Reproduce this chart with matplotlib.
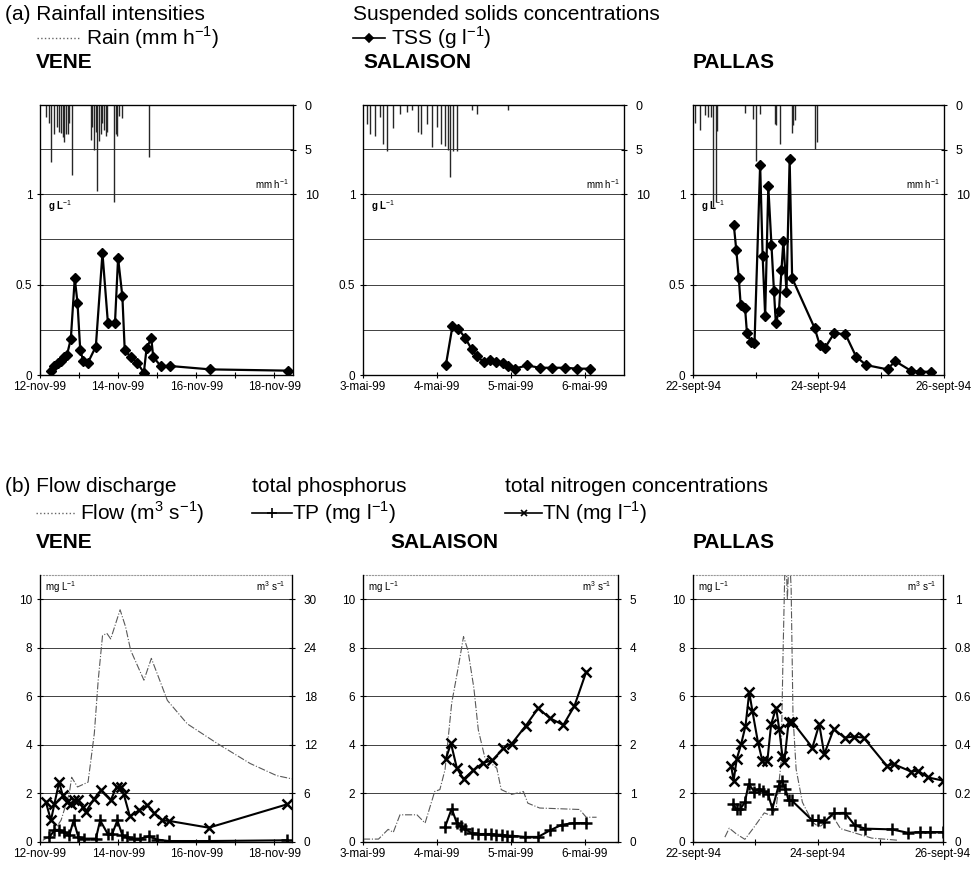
import matplotlib
matplotlib.use('Agg')
import matplotlib.pyplot as plt
from matplotlib.lines import Line2D
from matplotlib.transforms import blended_transform_factory

plt.rcParams['font.family'] = 'Liberation Sans'
plt.rcParams['mathtext.fontset'] = 'custom'
plt.rcParams['mathtext.rm'] = 'Liberation Sans'

# ---- (a) rainfall (mm/h) and TSS (g/l), time in days from first date ----
vene_rain_t = [0.15, 0.24, 0.28, 0.37, 0.43, 0.49, 0.54, 0.58, 0.62, 0.66, 0.71, 0.75, 0.81,
               1.30, 1.34, 1.38, 1.43, 1.47, 1.51, 1.56, 1.60, 1.64, 1.68, 1.72,
               1.90, 1.94, 1.98, 2.02, 2.11, 2.79]
vene_rain = [1.3, 2.0, 6.4, 3.3, 2.5, 3.0, 3.1, 3.6, 4.1, 3.2, 3.3, 2.0, 7.9,
             3.9, 2.5, 5.1, 3.0, 9.6, 4.0, 3.3, 2.0, 2.8, 3.5, 3.0,
             10.9, 3.3, 3.5, 1.2, 1.5, 5.8]
vene_tss_t = [0.28, 0.36, 0.47, 0.54, 0.62, 0.69, 0.79, 0.89, 0.96, 1.03, 1.11, 1.22, 1.43, 1.60,
              1.74, 1.92, 2.00, 2.11, 2.17, 2.32, 2.49, 2.66, 2.73, 2.85, 2.90, 3.09, 3.32, 4.36, 6.36]
vene_tss = [0.02, 0.05, 0.065, 0.08, 0.10, 0.11, 0.20, 0.535, 0.40, 0.14, 0.075, 0.065, 0.157, 0.673,
            0.286, 0.286, 0.646, 0.434, 0.138, 0.10, 0.068, 0.013, 0.148, 0.203, 0.10, 0.05, 0.05, 0.031, 0.024]

sal_rain_t = [0.05, 0.09, 0.16, 0.23, 0.27, 0.32, 0.41, 0.50, 0.59, 0.66, 0.75, 0.79, 0.86, 0.93,
              1.00, 1.06, 1.11, 1.15, 1.18, 1.22, 1.27, 1.47, 1.54, 1.96]
sal_rain = [2.1, 3.3, 3.5, 1.3, 4.4, 5.2, 2.6, 1.0, 0.8, 0.6, 3.0, 3.3, 2.1, 4.7,
            2.5, 4.4, 4.6, 5.0, 8.1, 5.2, 5.2, 0.6, 1.0, 0.6]
sal_tss_t = [1.12, 1.21, 1.29, 1.38, 1.47, 1.54, 1.63, 1.72, 1.80, 1.89, 1.96, 2.05, 2.22, 2.39,
             2.56, 2.73, 2.90, 3.07]
sal_tss = [0.053, 0.27, 0.255, 0.206, 0.142, 0.105, 0.072, 0.083, 0.072, 0.068, 0.05, 0.035, 0.053, 0.04,
           0.04, 0.04, 0.035, 0.035]

pal_rain_t = [0.03, 0.11, 0.19, 0.24, 0.28, 0.32, 0.37, 0.39, 0.83, 0.96, 1.01, 1.06, 1.30, 1.32,
              1.38, 1.57, 1.60, 1.63, 1.95, 1.97]
pal_rain = [2.0, 2.8, 1.1, 1.4, 1.3, 11.4, 10.9, 2.9, 0.9, 1.6, 6.3, 1.0, 2.1, 2.3,
            4.4, 3.1, 2.3, 1.7, 4.9, 4.2]
pal_tss_t = [0.65, 0.69, 0.73, 0.76, 0.83, 0.86, 0.92, 0.98, 1.07, 1.11, 1.15, 1.20, 1.25, 1.29, 1.32,
             1.37, 1.41, 1.44, 1.49, 1.54, 1.58, 1.94, 2.02, 2.10, 2.25, 2.43, 2.60, 2.76, 3.10, 3.22,
             3.47, 3.62, 3.79]
pal_tss = [0.83, 0.69, 0.535, 0.387, 0.369, 0.231, 0.185, 0.175, 1.162, 0.655, 0.327, 1.042, 0.72, 0.465,
           0.286, 0.354, 0.581, 0.738, 0.461, 1.194, 0.535, 0.258, 0.166, 0.148, 0.231, 0.225, 0.101,
           0.055, 0.031, 0.077, 0.024, 0.018, 0.018]

# ---- (b) flow (m3/s), TP and TN (mg/l) ----
vene_flow_t = [0.07, 0.28, 0.54, 0.75, 0.81, 0.96, 1.23, 1.39, 1.49, 1.60, 1.71, 1.81, 2.05, 2.19,
               2.32, 2.66, 2.85, 3.00, 3.26, 3.77, 4.53, 5.38, 6.06, 6.45]
vene_flow = [0.2, 0.8, 2.7, 6.0, 8.0, 6.8, 7.4, 13.4, 20.0, 25.5, 25.8, 25.1, 28.7, 26.6,
             23.7, 20.0, 22.7, 20.8, 17.5, 14.6, 12.2, 9.7, 8.2, 7.8]
vene_tn_t = [0.15, 0.28, 0.37, 0.49, 0.58, 0.69, 0.79, 0.87, 0.98, 1.09, 1.17, 1.39, 1.56, 1.81,
             1.96, 2.07, 2.14, 2.30, 2.53, 2.75, 2.92, 3.13, 3.30, 4.32, 6.32]
vene_tn = [1.65, 0.89, 1.58, 2.47, 1.92, 1.65, 1.58, 1.72, 1.72, 1.44, 1.24, 1.79, 2.13, 1.72,
           2.27, 2.27, 1.99, 1.06, 1.30, 1.51, 1.20, 0.89, 0.87, 0.59, 1.55]
vene_tp_t = [0.24, 0.37, 0.49, 0.62, 0.75, 0.86, 0.98, 1.13, 1.43, 1.54, 1.73, 1.85, 1.98, 2.11,
             2.23, 2.40, 2.57, 2.78, 3.00, 3.30, 4.32, 6.32]
vene_tp = [0.21, 0.48, 0.51, 0.41, 0.27, 0.89, 0.21, 0.14, 0.14, 0.89, 0.34, 0.34, 0.89, 0.27,
           0.21, 0.14, 0.14, 0.23, 0.10, 0.04, 0.04, 0.07]

sal_flow_t = [0.0, 0.21, 0.34, 0.41, 0.50, 0.73, 0.84, 0.97, 1.04, 1.11, 1.20, 1.29, 1.36, 1.42,
              1.50, 1.56, 1.65, 1.81, 1.87, 2.01, 2.17, 2.23, 2.39, 2.93, 3.02, 3.16]
sal_flow = [0.06, 0.06, 0.26, 0.20, 0.56, 0.56, 0.39, 1.04, 1.08, 1.49, 2.86, 3.61, 4.23, 3.95,
            3.17, 2.31, 1.73, 1.52, 1.08, 0.98, 1.04, 0.80, 0.70, 0.67, 0.51, 0.51]
sal_tn_t = [1.12, 1.19, 1.27, 1.36, 1.49, 1.63, 1.75, 1.90, 2.01, 2.20, 2.37, 2.53, 2.71, 2.86, 3.02]
sal_tn = [3.41, 4.07, 3.04, 2.59, 2.95, 3.27, 3.36, 3.86, 4.04, 4.78, 5.51, 5.10, 4.82, 5.60, 7.01]
sal_tp_t = [1.11, 1.20, 1.27, 1.32, 1.38, 1.47, 1.56, 1.65, 1.73, 1.80, 1.88, 1.95, 2.01, 2.19,
            2.37, 2.53, 2.69, 2.85, 3.02]
sal_tp = [0.62, 1.37, 0.78, 0.64, 0.53, 0.37, 0.33, 0.33, 0.33, 0.30, 0.30, 0.26, 0.26, 0.21,
          0.21, 0.48, 0.71, 0.78, 0.78]

pal_flow_t = [0.51, 0.58, 0.69, 0.83, 0.96, 1.14, 1.25, 1.33, 1.41, 1.44, 1.48, 1.51, 1.54, 1.57,
              1.60, 1.65, 1.75, 1.91, 2.02, 2.12, 2.23, 2.36, 2.54, 2.86, 3.29]
pal_flow = [0.02, 0.057, 0.034, 0.011, 0.055, 0.12, 0.109, 0.137, 0.328, 0.765, 1.25, 1.0, 1.2, 1.05,
            0.519, 0.30, 0.164, 0.082, 0.061, 0.082, 0.109, 0.055, 0.041, 0.016, 0.007]
pal_tn_t = [0.61, 0.65, 0.70, 0.77, 0.84, 0.90, 0.95, 1.04, 1.11, 1.19, 1.25, 1.33, 1.38, 1.43, 1.46,
            1.53, 1.59, 1.91, 2.02, 2.10, 2.25, 2.43, 2.57, 2.73, 3.10, 3.21, 3.49, 3.60, 3.76, 4.0]
pal_tn = [3.14, 2.53, 3.42, 4.03, 4.78, 6.17, 5.40, 4.10, 3.35, 3.35, 4.85, 5.53, 4.64, 3.55, 3.28,
          4.95, 4.95, 3.89, 4.85, 3.62, 4.64, 4.30, 4.34, 4.30, 3.14, 3.21, 2.90, 2.94, 2.66, 2.53]
pal_tp_t = [0.64, 0.70, 0.76, 0.83, 0.89, 0.98, 1.06, 1.12, 1.20, 1.27, 1.37, 1.42, 1.48, 1.53,
            1.58, 1.91, 2.00, 2.10, 2.25, 2.43, 2.59, 2.76, 3.18, 3.44, 3.63, 3.79, 4.0]
pal_tp = [1.57, 1.34, 1.37, 1.64, 2.39, 2.08, 2.19, 2.12, 1.98, 1.37, 2.32, 2.53, 2.19, 1.71,
          1.71, 0.89, 0.89, 0.82, 1.19, 1.20, 0.68, 0.55, 0.52, 0.38, 0.41, 0.41, 0.41]

# tick labels
vene_ticks = [0, 2, 4, 6]
vene_labels = ["12-nov-99", "14-nov-99", "16-nov-99", "18-nov-99"]
sal_ticks = [0, 1, 2, 3]
sal_labels = ["3-mai-99", "4-mai-99", "5-mai-99", "6-mai-99"]
pal_ticks = [0, 2, 4]
pal_labels = ["22-sept-94", "24-sept-94", "26-sept-94"]

vene_flow_ticks = [0, 6, 12, 18, 24, 30]
sal_flow_ticks = [0, 1, 2, 3, 4, 5]
pal_flow_ticks = [0, 0.2, 0.4, 0.6, 0.8, 1]

W, H = 978, 869
TF = 8.5   # tick label size
HF = 15    # header size
fig = plt.figure(figsize=(W / 100, H / 100), dpi=100, facecolor='white')


def px_axes(x0, y0, x1, y1):
    return fig.add_axes([x0 / W, 1 - y1 / H, (x1 - x0) / W, (y1 - y0) / H])


def fig_text(x, y, s, **kw):
    fig.text(x / W, 1 - y / H, s, va='center', ha='left', **kw)


def legend_sample(x0, x1, y, ls='-', color='black', lw=1.2, marker=None, ms=5):
    fig.add_artist(Line2D([x0 / W, x1 / W], [1 - y / H, 1 - y / H], transform=fig.transFigure,
                          ls=ls, color=color, lw=lw))
    if marker:
        xm = (x0 + x1) / 2
        fig.add_artist(Line2D([xm / W], [1 - y / H], transform=fig.transFigure, ls='none',
                              marker=marker, color='black', ms=ms, mew=1.2))


def style_x(ax, xmax, ticks, labels, minor_step):
    ax.set_xlim(0, xmax)
    ax.set_xticks(ticks)
    ax.set_xticklabels(labels, fontsize=TF)
    minors = []
    d = 0.0
    while d <= xmax + 1e-6:
        minors.append(d)
        d += minor_step
    ax.set_xticks(minors, minor=True)
    ax.tick_params(axis='x', which='both', direction='inout', length=5, width=0.8, pad=2)


GRID = dict(color='0.25', lw=0.7, zorder=0)

# ---------------- top row ----------------
top_specs = [
    ((40, 293), vene_rain_t, vene_rain, vene_tss_t, vene_tss, 6.48, vene_ticks, vene_labels),
    ((363, 624), sal_rain_t, sal_rain, sal_tss_t, sal_tss, 3.53, sal_ticks, sal_labels),
    ((693, 944), pal_rain_t, pal_rain, pal_tss_t, pal_tss, 4.0, pal_ticks, pal_labels),
]
for (x0, x1), rt, rv, tt, tv, xmax, ticks, labels in top_specs:
    ax = px_axes(x0, 105, x1, 375)
    ax.set_ylim(0, 1.492)
    for g in [0.25, 0.5, 0.75, 1.0, 1.25]:
        ax.axhline(g, **GRID)
    ax.set_yticks([0, 0.5, 1])
    ax.set_yticklabels(["0", "0.5", "1"], fontsize=TF)
    ax.tick_params(axis='y', direction='inout', length=5, width=0.8, pad=3)
    style_x(ax, xmax, ticks, labels, 1)
    ax.plot(tt, tv, '-', color='black', lw=1.6, marker='D', ms=5.5, zorder=5)
    for s in ax.spines.values():
        s.set_linewidth(0.9)
    tr = blended_transform_factory(ax.transAxes, ax.transData)
    ax.text(0.985, 1.015, r"mm h$^{-1}$", transform=tr, ha='right', va='bottom', fontsize=7)
    ax.text(0.03, 0.975, r"g L$^{-1}$", transform=tr, ha='left', va='top', fontsize=7,
            fontweight='bold')

    ax2 = ax.twinx()
    ax2.set_ylim(30.3, 0)
    ax2.set_yticks([0, 5, 10])
    ax2.set_yticklabels(["0", "5", "10"], fontsize=TF + 0.5)
    ax2.tick_params(axis='y', direction='inout', length=5, width=0.8, pad=6)
    ax2.vlines(rt, 0, rv, color='0.15', lw=1.0)
    ax2.set_xlim(0, xmax)

# ---------------- bottom row ----------------
bot_specs = [
    ((40, 292), vene_flow_t, vene_flow, 33.0, vene_flow_ticks, ["0", "6", "12", "18", "24", "30"],
     vene_tp_t, vene_tp, vene_tn_t, vene_tn, 6.45, vene_ticks, vene_labels),
    ((363, 618), sal_flow_t, sal_flow, 5.5, sal_flow_ticks, ["0", "1", "2", "3", "4", "5"],
     sal_tp_t, sal_tp, sal_tn_t, sal_tn, 3.45, sal_ticks, sal_labels),
    ((693, 943), pal_flow_t, pal_flow, 1.1, pal_flow_ticks, ["0", "0.2", "0.4", "0.6", "0.8", "1"],
     pal_tp_t, pal_tp, pal_tn_t, pal_tn, 4.0, pal_ticks, pal_labels),
]
for ((x0, x1), ft, fv, fmax, fticks, flabels, pt, pv, nt, nv, xmax, ticks, labels) in bot_specs:
    ax = px_axes(x0, 575, x1, 842)
    ax.set_ylim(0, 11.0)
    for g in [2, 4, 6, 8, 10]:
        ax.axhline(g, **GRID)
    ax.set_yticks([0, 2, 4, 6, 8, 10])
    ax.set_yticklabels(["0", "2", "4", "6", "8", "10"], fontsize=TF)
    ax.tick_params(axis='y', direction='inout', length=5, width=0.8, pad=3)
    style_x(ax, xmax, ticks, labels, 1)
    ax.spines['top'].set_color('0.6')
    ax.spines['top'].set_linestyle(':')
    for k in ['left', 'right', 'bottom']:
        ax.spines[k].set_linewidth(0.9)
    ax.text(0.02, 0.985, r"mg L$^{-1}$", transform=ax.transAxes, ha='left', va='top', fontsize=7)
    ax.text(0.975, 0.985, r"m$^{3}$ s$^{-1}$", transform=ax.transAxes, ha='right', va='top',
            fontsize=7)

    ax2 = ax.twinx()
    ax2.set_ylim(0, fmax)
    ax2.set_yticks(fticks)
    ax2.set_yticklabels(flabels, fontsize=TF)
    ax2.tick_params(axis='y', direction='inout', length=5, width=0.8, pad=6)
    ax2.plot(ft, fv, '-.', color='0.35', lw=0.8, zorder=1)
    ax2.set_xlim(0, xmax)
    ax2.spines['top'].set_visible(False)

    # concentrations drawn above the flow curve
    ax3 = ax.twinx()
    ax3.set_ylim(0, 11.0)
    ax3.set_xlim(0, xmax)
    ax3.axis('off')
    ax3.plot(nt, nv, '-', color='black', lw=1.5, marker='x', ms=7.5, mew=1.8)
    ax3.plot(pt, pv, '-', color='black', lw=1.5, marker='+', ms=8.5, mew=1.8)

# ---------------- headers ----------------
fig_text(5, 14, "(a) Rainfall intensities", fontsize=HF)
fig_text(353, 14, "Suspended solids concentrations", fontsize=HF)
legend_sample(37, 81, 38, ls=':', color='0.4', lw=1.0)
fig_text(86, 38, r"Rain (mm h$^{-1}$)", fontsize=HF)
legend_sample(353, 385, 38, marker='D', ms=4)
fig_text(391, 38, r"TSS (g l$^{-1}$)", fontsize=HF)
fig_text(36, 62, "VENE", fontsize=HF, fontweight='bold')
fig_text(363, 62, "SALAISON", fontsize=HF, fontweight='bold')
fig_text(693, 62, "PALLAS", fontsize=HF, fontweight='bold')

fig_text(5, 487, "(b) Flow discharge", fontsize=HF)
fig_text(252, 487, "total phosphorus", fontsize=HF)
fig_text(505, 487, "total nitrogen concentrations", fontsize=HF)
legend_sample(36, 76, 513, ls=':', color='0.4', lw=1.0)
fig_text(80, 513, r"Flow (m$^{3}$ s$^{-1}$)", fontsize=HF)
legend_sample(252, 292, 513, marker='+', ms=7)
fig_text(292, 513, r"TP (mg l$^{-1}$)", fontsize=HF)
legend_sample(505, 542, 513, marker='x', ms=5)
fig_text(542, 513, r"TN (mg l$^{-1}$)", fontsize=HF)
fig_text(36, 542, "VENE", fontsize=HF, fontweight='bold')
fig_text(390, 542, "SALAISON", fontsize=HF, fontweight='bold')
fig_text(693, 542, "PALLAS", fontsize=HF, fontweight='bold')

fig.savefig("out.png", dpi=100)
